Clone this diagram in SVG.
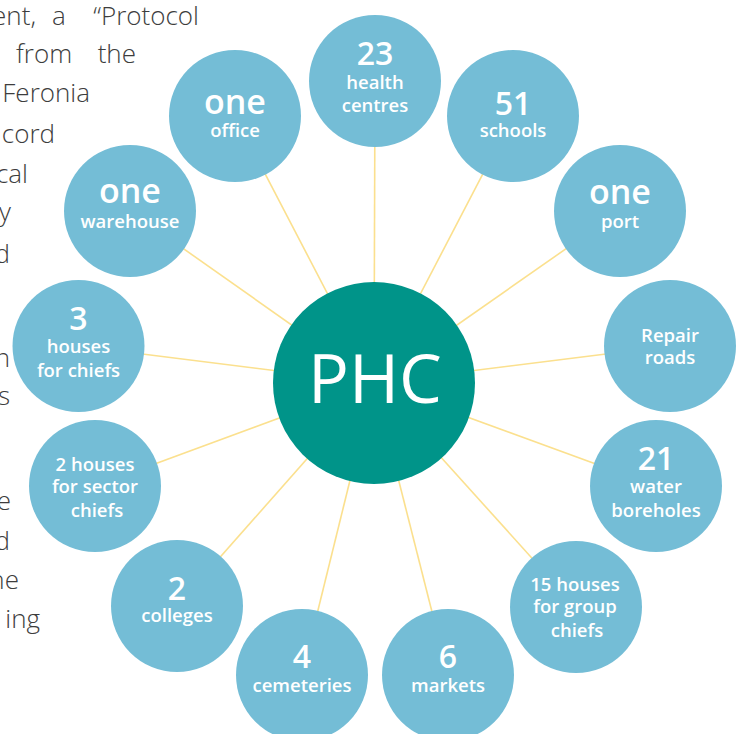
<svg xmlns="http://www.w3.org/2000/svg" width="741" height="734" viewBox="0 0 741 734">
<style>
.body{font-family:"Open Sans","Liberation Sans",sans-serif;font-weight:300;font-size:26px;fill:#3d3d3d}
.spoke{stroke:#fbe08e;stroke-width:1.6;fill:none}
.node circle{fill:#74bdd6}
.num{font-family:"Open Sans","Liberation Sans",sans-serif;font-weight:600;font-size:32px;fill:#fff;text-anchor:middle}
.one{font-family:"Open Sans","Liberation Sans",sans-serif;font-weight:600;font-size:34px;fill:#fff;text-anchor:middle}
.lbl{font-family:"Open Sans","Liberation Sans",sans-serif;font-weight:600;font-size:18.5px;fill:#fff;text-anchor:middle}
.hub{font-family:"Open Sans","Liberation Sans",sans-serif;font-weight:400;font-size:68px;fill:#fff;text-anchor:middle}
</style>
<rect width="741" height="734" fill="#fff"/>
<g id="bodytext" class="body">
<text x="36" y="25" text-anchor="end">ent,</text>
<text x="52" y="25">a</text>
<text x="199" y="25" text-anchor="end">“Protocol</text>
<text x="16" y="63">from</text>
<text x="136" y="63" text-anchor="end">the</text>
<text x="90" y="102" text-anchor="end">Feronia</text>
<text x="55" y="143" text-anchor="end">cord</text>
<text x="28" y="183" text-anchor="end">cal</text>
<text x="11" y="221" text-anchor="end">y</text>
<text x="10" y="263" text-anchor="end">d</text>
<text x="10" y="367" text-anchor="end">n</text>
<text x="10" y="405" text-anchor="end">s</text>
<text x="11" y="510" text-anchor="end">e</text>
<text x="10" y="550" text-anchor="end">d</text>
<text x="19" y="589" text-anchor="end">ne</text>
<text x="40" y="628" text-anchor="end">ing</text>
</g>
<g id="connectors" class="spoke">
<line x1="374" y1="383" x2="375" y2="81"/>
<line x1="374" y1="383" x2="513" y2="116"/>
<line x1="374" y1="383" x2="620" y2="211"/>
<line x1="374" y1="383" x2="670" y2="346"/>
<line x1="374" y1="383" x2="656" y2="486"/>
<line x1="374" y1="383" x2="576" y2="607"/>
<line x1="374" y1="383" x2="448" y2="675"/>
<line x1="374" y1="383" x2="302" y2="675"/>
<line x1="374" y1="383" x2="177" y2="606"/>
<line x1="374" y1="383" x2="95" y2="486"/>
<line x1="374" y1="383" x2="78.5" y2="346"/>
<line x1="374" y1="383" x2="130" y2="211"/>
<line x1="374" y1="383" x2="235" y2="116"/>
</g>
<g id="phc">
<circle cx="374" cy="383" r="101" fill="#009489"/>
<text class="hub" x="375" y="403">PHC</text>
</g>
<g id="health" class="node"><circle cx="375" cy="81" r="66"/>
<text class="num" x="375" y="65">23</text><text class="lbl" x="375" y="89">health</text><text class="lbl" x="375" y="112">centres</text></g>
<g id="schools" class="node"><circle cx="513" cy="116" r="66"/>
<text class="num" x="513" y="115">51</text><text class="lbl" x="513" y="137">schools</text></g>
<g id="port" class="node"><circle cx="620" cy="211" r="66"/>
<text class="one" x="620" y="204">one</text><text class="lbl" x="620" y="228">port</text></g>
<g id="roads" class="node"><circle cx="670" cy="346" r="66"/>
<text class="lbl" x="670" y="342">Repair</text><text class="lbl" x="670" y="364">roads</text></g>
<g id="water" class="node"><circle cx="656" cy="486" r="66"/>
<text class="num" x="656" y="470">21</text><text class="lbl" x="656" y="493">water</text><text class="lbl" x="656" y="517">boreholes</text></g>
<g id="grouphouses" class="node"><circle cx="576" cy="607" r="66"/>
<text class="lbl" x="575" y="591">15 houses</text><text class="lbl" x="575" y="613">for group</text><text class="lbl" x="577" y="637">chiefs</text></g>
<g id="markets" class="node"><circle cx="448" cy="675" r="66"/>
<text class="num" x="448" y="668">6</text><text class="lbl" x="448" y="692">markets</text></g>
<g id="cemeteries" class="node"><circle cx="302" cy="675" r="66"/>
<text class="num" x="302" y="668">4</text><text class="lbl" x="302" y="692">cemeteries</text></g>
<g id="colleges" class="node"><circle cx="177" cy="606" r="66"/>
<text class="num" x="177" y="600">2</text><text class="lbl" x="177" y="622">colleges</text></g>
<g id="sectorhouses" class="node"><circle cx="95" cy="486" r="66"/>
<text class="lbl" x="95" y="471">2 houses</text><text class="lbl" x="95" y="493">for sector</text><text class="lbl" x="97" y="517">chiefs</text></g>
<g id="chiefhouses" class="node"><circle cx="78.5" cy="346" r="66"/>
<text class="num" x="78.5" y="330">3</text><text class="lbl" x="78.5" y="353">houses</text><text class="lbl" x="78.5" y="377">for chiefs</text></g>
<g id="warehouse" class="node"><circle cx="130" cy="211" r="66"/>
<text class="one" x="130" y="203">one</text><text class="lbl" x="130" y="228">warehouse</text></g>
<g id="office" class="node"><circle cx="235" cy="116" r="66"/>
<text class="one" x="235" y="114">one</text><text class="lbl" x="235" y="137">office</text></g>
</svg>
